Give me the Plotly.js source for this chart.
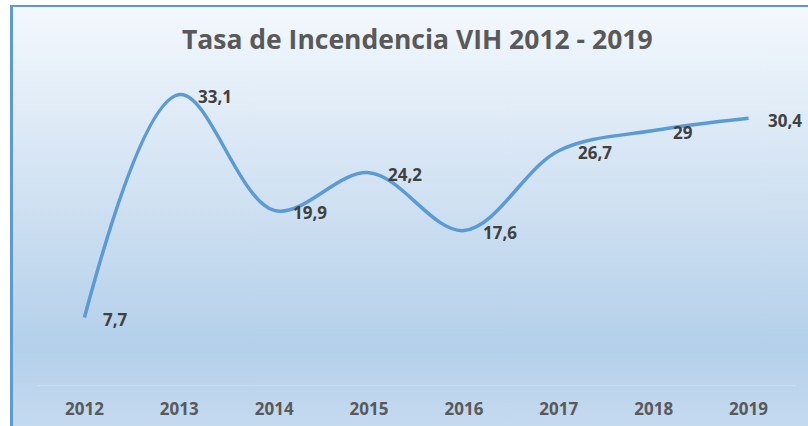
<!DOCTYPE html>
<html>
<head>
<meta charset="utf-8">
<script src="https://cdn.plot.ly/plotly-3.0.1.min.js"></script>
<style>
  html, body { margin: 0; padding: 0; background: #ffffff; overflow: hidden; }
  #bg {
    position: absolute; left: 10px; top: 5px; width: 820px; height: 440px;
    border-left: 3px solid #5b9bd5; border-top: 2px solid #5b9bd5;
    background: linear-gradient(to bottom, #f3f8fd 0%, #dbe8f5 30%, #b4d0ea 77%, #c9dcf0 100%);
  }
  #chart { position: absolute; left: 0; top: 0; width: 808px; height: 426px; }
</style>
</head>
<body>
<div id="bg"></div>
<div id="chart"></div>
<script>
var years = ['2012', '2013', '2014', '2015', '2016', '2017', '2018', '2019'];
var rates = [7.7, 33.1, 19.9, 24.2, 17.6, 26.7, 29, 30.4];
var labels = rates.map(function (v) { return String(v).replace('.', ','); });

var trace = {
  x: years,
  y: rates,
  type: 'scatter',
  mode: 'lines',
  line: { color: '#5b9bd5', width: 3.5, shape: 'spline', smoothing: 1 },
  hoverinfo: 'skip'
};

var annotations = years.map(function (yr, i) {
  return {
    x: i, y: rates[i], xref: 'x', yref: 'y',
    text: labels[i], showarrow: false,
    xanchor: 'left', yanchor: 'middle',
    xshift: 17, yshift: -2,
    font: { family: 'Open Sans, sans-serif', size: 17, color: '#404040', weight: 'bold' }
  };
});

var layout = {
  width: 808, height: 426,
  margin: { l: 36.5, r: 11.5, t: 34, b: 41 },
  paper_bgcolor: 'rgba(0,0,0,0)',
  plot_bgcolor: 'rgba(0,0,0,0)',
  showlegend: false,
  title: {
    text: 'Tasa de Incendencia VIH 2012 - 2019',
    x: 0.501, xanchor: 'center', xref: 'paper',
    y: 0.907, yanchor: 'middle', yref: 'container',
    font: { family: 'Open Sans, sans-serif', size: 26.5, color: '#595959', weight: 'bold' }
  },
  xaxis: {
    type: 'category',
    range: [-0.5, 7.5],
    showgrid: false, zeroline: false,
    showline: true, linecolor: '#d9d9d9', linewidth: 1,
    ticks: '',
    ticklabelstandoff: 9,
    tickfont: { family: 'Open Sans, sans-serif', size: 17, color: '#595959', weight: 'bold' },
    fixedrange: true
  },
  yaxis: {
    range: [0, 40],
    visible: false,
    showgrid: false, zeroline: false,
    fixedrange: true
  },
  annotations: annotations
};

Plotly.newPlot('chart', [trace], layout, { displayModeBar: false, staticPlot: true });
</script>
</body>
</html>
